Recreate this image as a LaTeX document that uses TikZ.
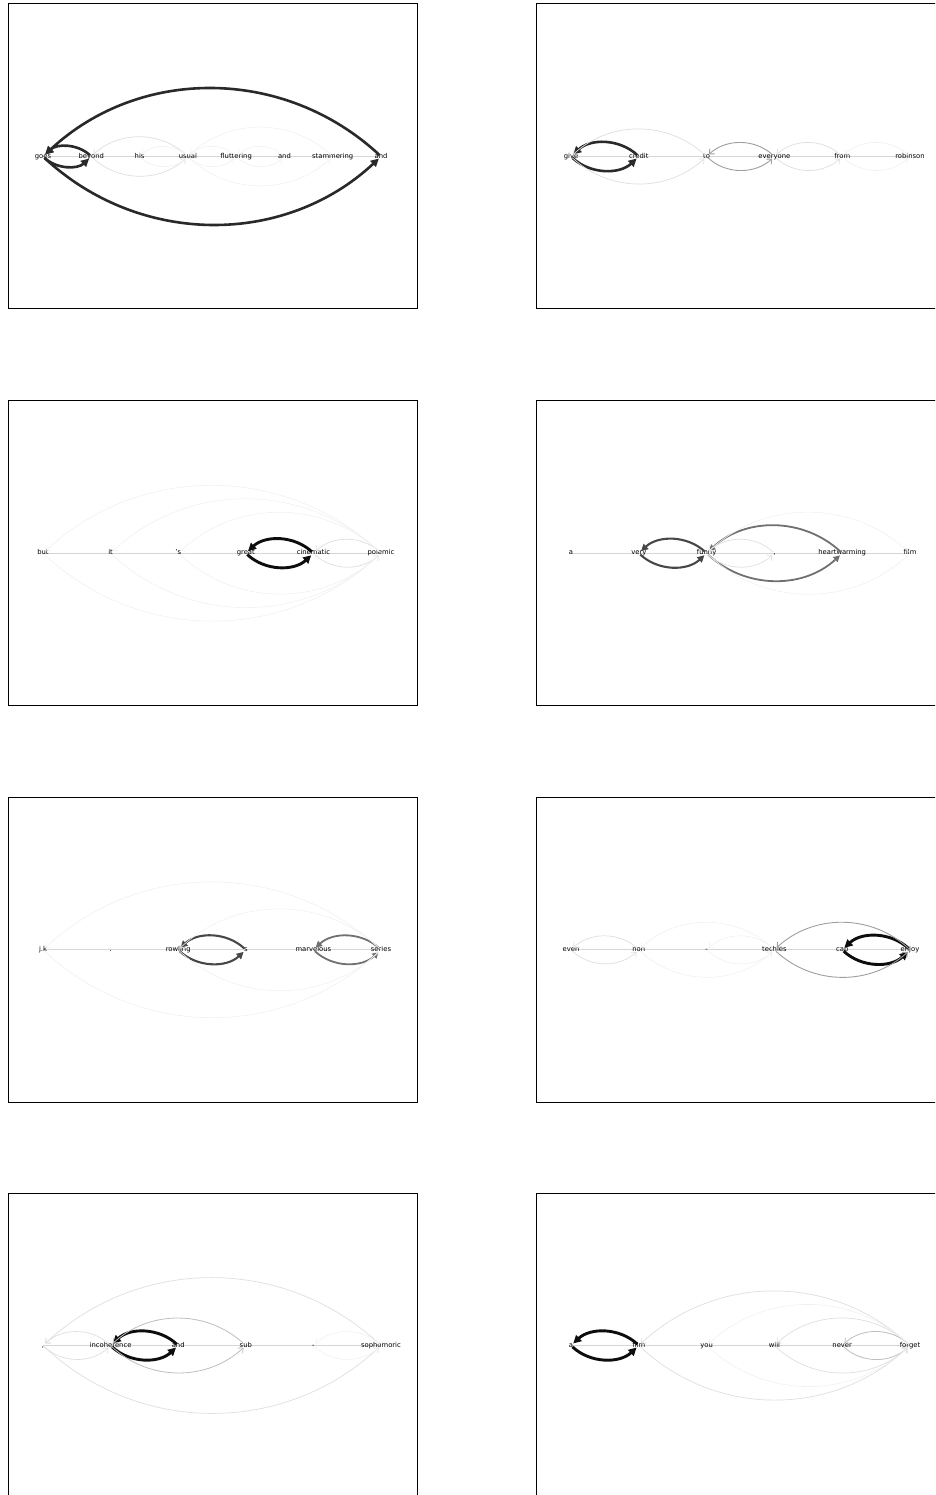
\documentclass[tikz,border=0pt]{standalone}
\usepackage{fontspec}
\setmainfont{DejaVu Sans}
\usetikzlibrary{arrows.meta,backgrounds}
\tikzset{
  panel/.style={draw=black, line width=1pt},
  word/.style={font=\fontsize{6.8}{8}\selectfont, inner sep=0pt, text height=5pt, text depth=1.5pt},
  chain/.style={draw=black!16, line width=0.9pt},
  dep/.style={bend right=43, shorten <=2pt, shorten >=3pt},
  strong/.style={dep, draw=black!95, line width=2.9pt, -{Triangle[length=8pt,width=8pt]}},
  heavy/.style={dep, draw=black!84, line width=2.6pt, -{Triangle[length=8pt,width=8pt]}},
  mid/.style={dep, draw=black!72, line width=2.1pt, -{Triangle[length=7pt,width=7pt]}},
  soft/.style={dep, draw=black!56, line width=1.8pt, -{Triangle[length=6.5pt,width=6.5pt]}},
  light/.style={dep, draw=black!38, line width=0.9pt, -{Straight Barb[length=4pt,width=7pt]}},
  pale/.style={dep, draw=black!26, line width=0.8pt, -{Straight Barb[length=4pt,width=7pt]}},
  faint/.style={dep, draw=black!13, line width=0.7pt, -{Straight Barb[length=4pt,width=7pt]}},
  ghost/.style={dep, draw=black!6, line width=0.6pt, -{Straight Barb[length=4pt,width=7pt]}}
}
\begin{document}
\begin{tikzpicture}[x=1pt,y=1pt]
\clip (0,0) rectangle (935,-1495);

% frames
\foreach \t in {4,400.7,797.3,1193} {
  \draw[panel] (8,-\t) rectangle (417,-\t-305);
  \draw[panel] (536,-\t) rectangle (945,-\t-305);
}

% words
\foreach \w [count=\i] in {goes,beyond,his,usual,fluttering,and,stammering,and}
  \node[word] (a\i) at ({43+(\i-1)*48.29},-156.5) {\w};
\foreach \w [count=\i] in {give,credit,to,everyone,from,robinson}
  \node[word] (b\i) at ({571+(\i-1)*67.8},-156.5) {\w};
\foreach \w [count=\i] in {but,it,'s,great,cinematic,polemic}
  \node[word] (c\i) at ({43+(\i-1)*67.6},-553.2) {\w};
\foreach \w [count=\i] in {a,very,funny,{,},heartwarming,film}
  \node[word] (d\i) at ({571+(\i-1)*67.8},-553.2) {\w};
\foreach \w [count=\i] in {j.k,.,rowling,s,marvelous,series}
  \node[word] (e\i) at ({43+(\i-1)*67.6},-949.8) {\w};
\foreach \w [count=\i] in {even,non,-,techies,cap,enjoy}
  \node[word] (f\i) at ({571+(\i-1)*67.8},-949.8) {\w};
\foreach \w [count=\i] in {{,},incoherence,and,sub,-,sophomoric}
  \node[word] (g\i) at ({43+(\i-1)*67.6},-1345.5) {\w};
\foreach \w [count=\i] in {a,film,you,will,never,forget}
  \node[word] (h\i) at ({571+(\i-1)*67.8},-1345.5) {\w};

% sentence lines
\begin{scope}[on background layer]
  \draw[chain] (a1.center) -- (a8.center);
  \foreach \p in {b,c,d,e,f,g,h}
    \draw[chain] (\p1.center) -- (\p6.center);
\end{scope}

% goes beyond his usual ...
\foreach \s/\d in {2/1,1/2,8/1,1/8} \draw[heavy] (a\s.center) to (a\d.center);
\foreach \s/\d in {4/2,2/4} \draw[faint] (a\s.center) to (a\d.center);
\foreach \s/\d in {4/3,3/4,7/4,4/7,6/5,5/6,5/4,4/5} \draw[ghost] (a\s.center) to (a\d.center);

% give credit to everyone ...
\foreach \s/\d in {2/1,1/2} \draw[heavy] (b\s.center) to (b\d.center);
\foreach \s/\d in {4/3,3/4} \draw[light] (b\s.center) to (b\d.center);
\foreach \s/\d in {3/1,1/3,5/4,4/5} \draw[faint] (b\s.center) to (b\d.center);
\foreach \s/\d in {6/5,5/6} \draw[ghost] (b\s.center) to (b\d.center);

% but it 's great ...
\foreach \s/\d in {5/4,4/5} \draw[strong] (c\s.center) to (c\d.center);
\foreach \s/\d in {6/5,5/6} \draw[faint] (c\s.center) to (c\d.center);
\foreach \s/\d in {6/1,1/6,6/2,2/6,6/3,3/6} \draw[ghost] (c\s.center) to (c\d.center);

% a very funny ...
\foreach \s/\d in {3/2,2/3} \draw[mid] (d\s.center) to (d\d.center);
\foreach \s/\d in {5/3,3/5} \draw[soft] (d\s.center) to (d\d.center);
\foreach \s/\d in {4/3,3/4} \draw[faint] (d\s.center) to (d\d.center);
\foreach \s/\d in {6/3,3/6} \draw[ghost] (d\s.center) to (d\d.center);

% j.k . rowling ...
\foreach \s/\d in {4/3,3/4} \draw[mid] (e\s.center) to (e\d.center);
\foreach \s/\d in {6/5,5/6} \draw[soft] (e\s.center) to (e\d.center);
\foreach \s/\d in {6/1,1/6,6/3,3/6} \draw[ghost] (e\s.center) to (e\d.center);

% even non - techies ...
\foreach \s/\d in {6/5,5/6} \draw[strong] (f\s.center) to (f\d.center);
\foreach \s/\d in {6/4,4/6} \draw[light] (f\s.center) to (f\d.center);
\foreach \s/\d in {2/1,1/2} \draw[faint] (f\s.center) to (f\d.center);
\foreach \s/\d in {4/2,2/4,4/3,3/4} \draw[ghost] (f\s.center) to (f\d.center);

% , incoherence and sub ...
\foreach \s/\d in {3/2,2/3} \draw[strong] (g\s.center) to (g\d.center);
\foreach \s/\d in {4/2,2/4} \draw[pale] (g\s.center) to (g\d.center);
\foreach \s/\d in {2/1,1/2,6/1,1/6} \draw[faint] (g\s.center) to (g\d.center);
\foreach \s/\d in {6/5,5/6} \draw[ghost] (g\s.center) to (g\d.center);

% a film you will never forget
\foreach \s/\d in {2/1,1/2} \draw[strong] (h\s.center) to (h\d.center);
\foreach \s/\d in {6/5,5/6} \draw[pale] (h\s.center) to (h\d.center);
\foreach \s/\d in {6/2,2/6,6/4,4/6} \draw[faint] (h\s.center) to (h\d.center);
\foreach \s/\d in {6/3,3/6} \draw[ghost] (h\s.center) to (h\d.center);
\end{tikzpicture}
\end{document}
